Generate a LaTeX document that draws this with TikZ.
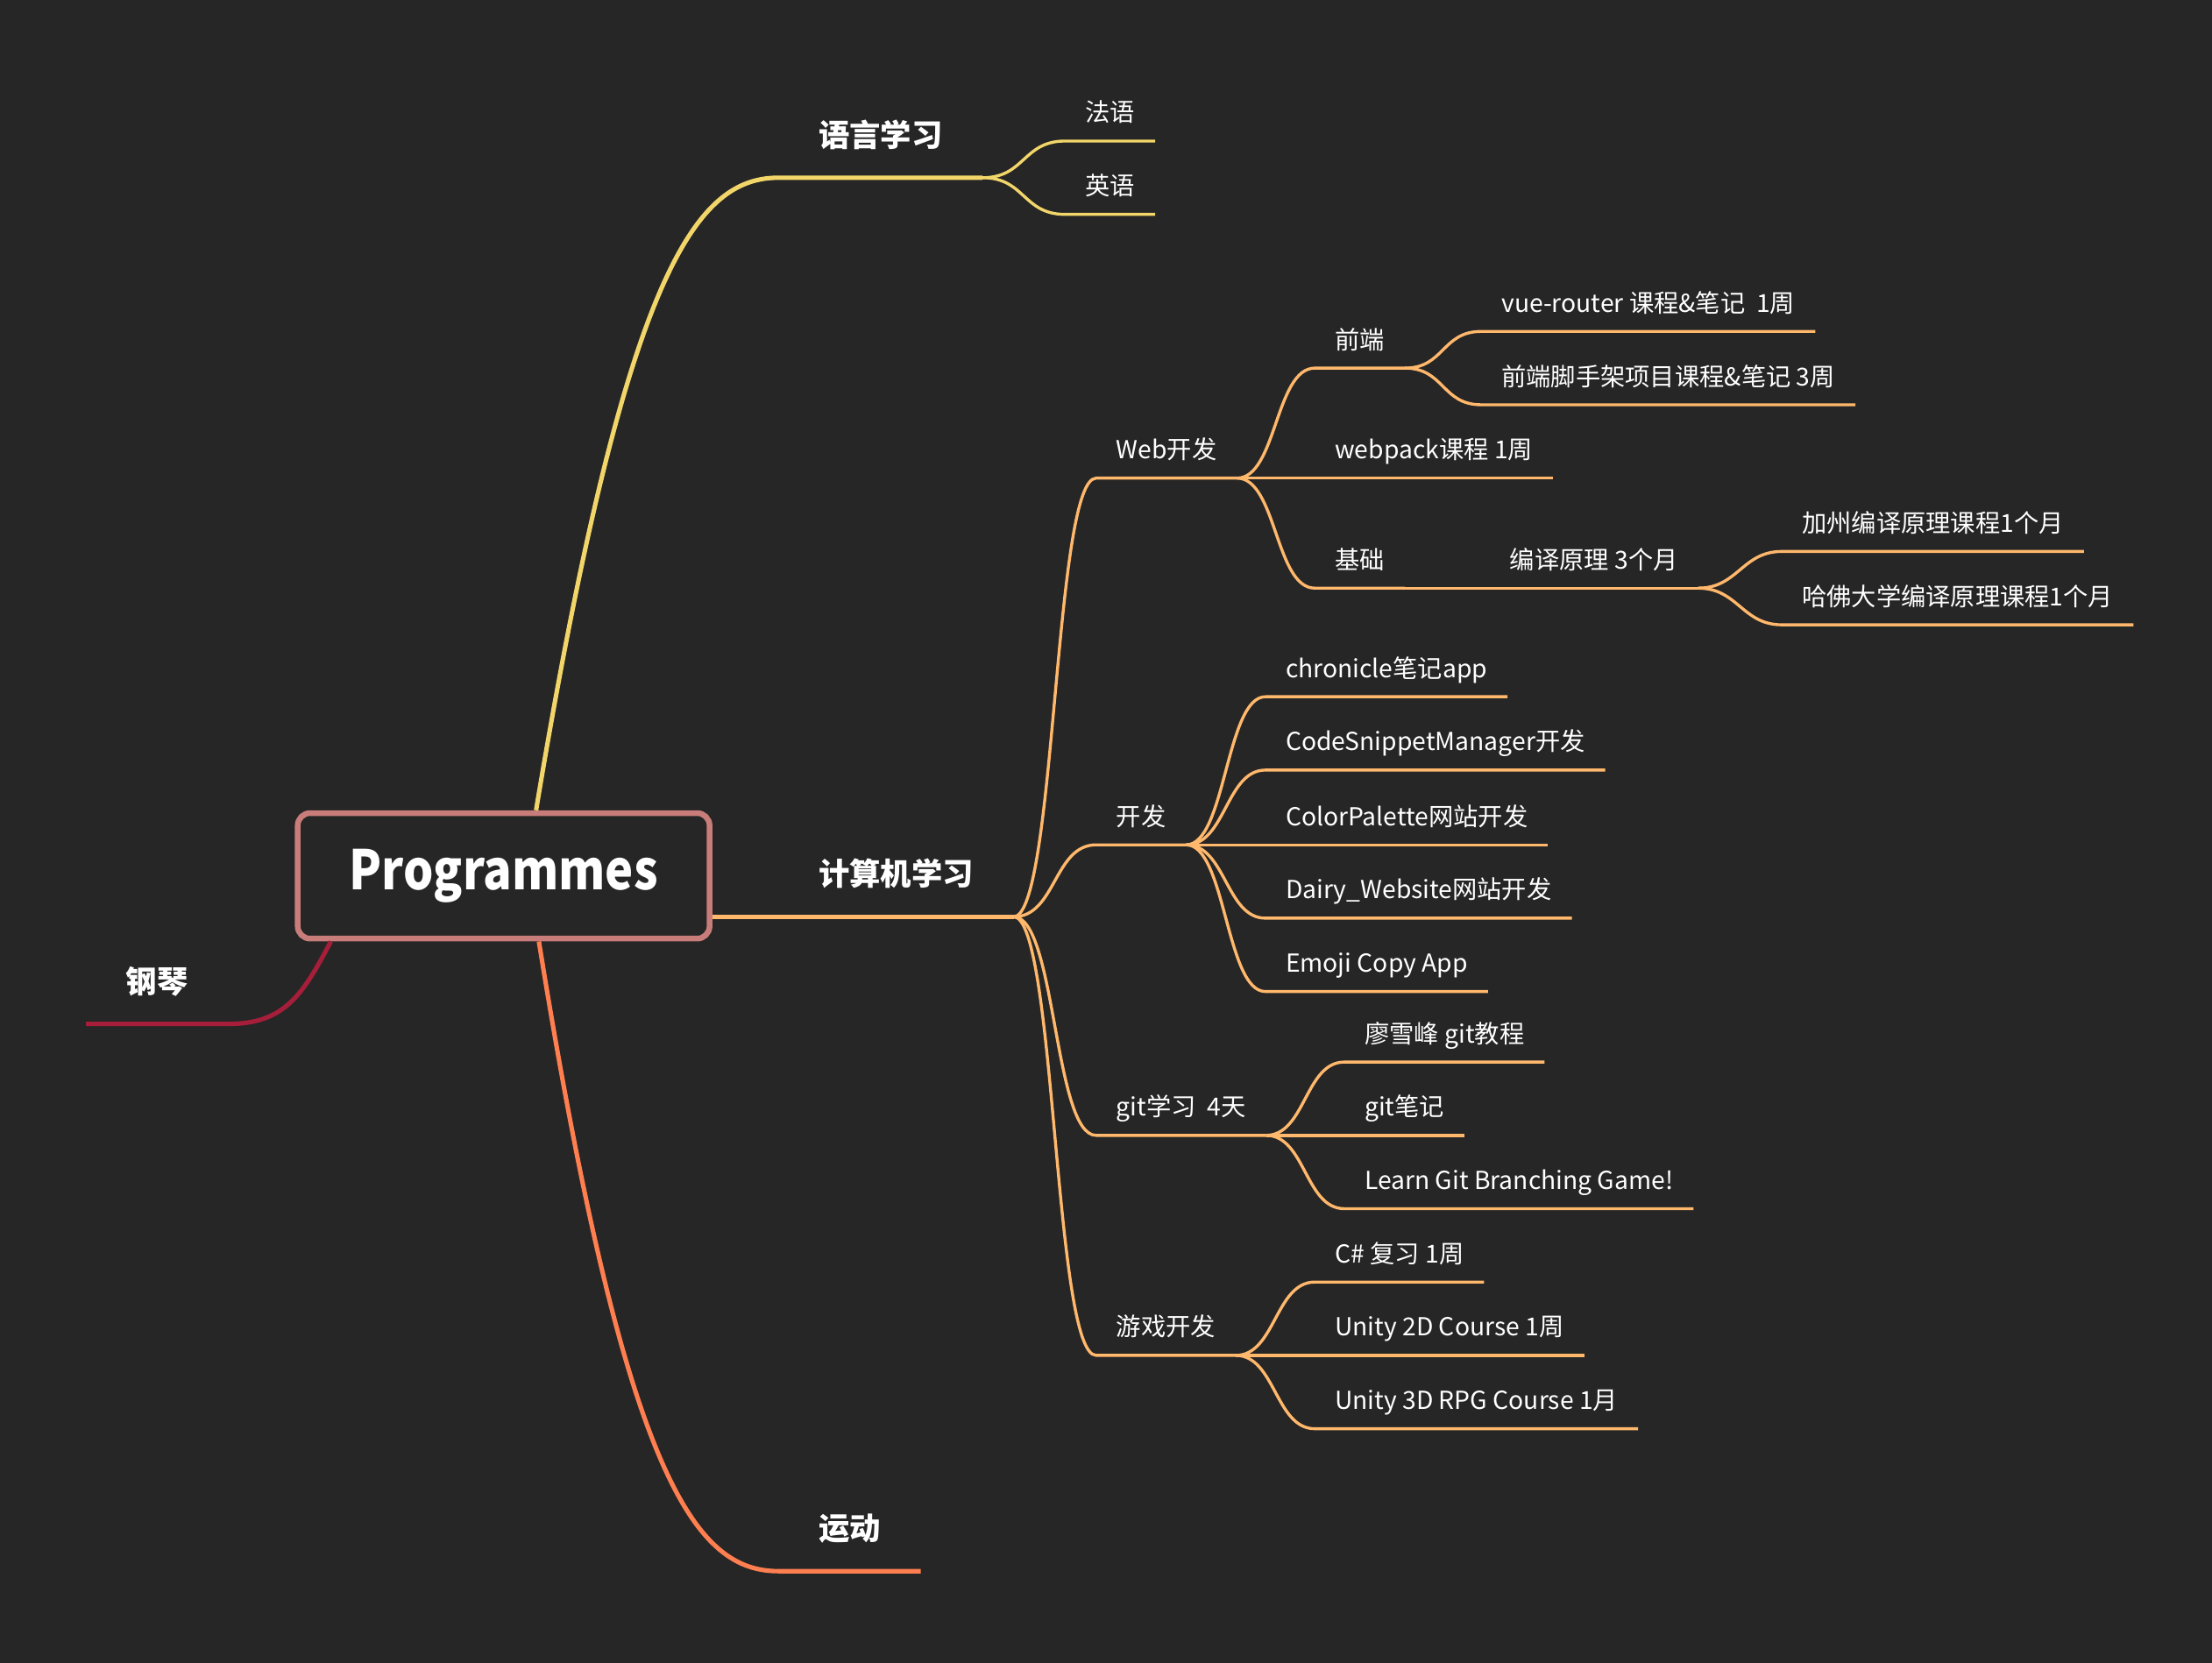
\documentclass[tikz,border=0pt]{standalone}
\usepackage{fontspec}
\setmainfont{Noto Sans CJK SC}
\newfontfamily\rootfont{Noto Sans CJK SC}[FakeStretch=0.87]
\usepackage{tikz}
\definecolor{colorbg}   {RGB}{38 ,38 ,38 }
\definecolor{colorroot} {RGB}{200,125,122}
\definecolor{colorlang} {RGB}{242,214,106}
\definecolor{colorcs}   {RGB}{255,184,108}
\definecolor{colorsport}{RGB}{255,127,80 }
\definecolor{colorpiano}{RGB}{166,30 ,58 }

\begin{document}
\begin{tikzpicture}[
    x=0.02cm, y=-0.02cm,
    root/.style={draw=colorroot,line width=2.3pt,rounded corners=5pt,fill=colorbg,text=white,
        minimum width=5.84cm,minimum height=1.78cm,font={\fontsize{22pt}{26pt}\rootfont\bfseries}},
    main/.style={anchor=south west,text=white,inner xsep=0.56cm,inner ysep=0.433cm,
        text height=0.3cm,text depth=0pt,font={\fontsize{12.5pt}{15pt}\selectfont\bfseries}},
    topic/.style={anchor=south west,text=white,inner xsep=0.28cm,inner ysep=0.266cm,
        text height=0.25cm,text depth=0pt,font={\fontsize{10pt}{12pt}\selectfont}},
    mainline/.style={line width=1.8pt},
    subline/.style={line width=1.2pt},
]

    \useasboundingbox (0,0) rectangle (1568,1179);
    \fill[colorbg] (0,0) rectangle (1568,1179);

    \node[root] (root) at (357,621) {Programmes};

    \node[main] (lang) at (552,126) {语言学习};
    \node[topic] (fr) at (755,100) {法语};
    \node[topic] (en) at (755,152) {英语};

    \node[main] (cs) at (552,650) {计算机学习};
    \node[topic] (web) at (777,339) {Web开发};
    \node[topic] (fe) at (932,261) {前端};
    \node[topic] (vr) at (1050,235) {vue-router 课程\&笔记\ \ 1周};
    \node[topic] (scaf) at (1050,287) {前端脚手架项目课程\&笔记 3周};
    \node[topic] (wp) at (932,339) {webpack课程 1周};
    \node[topic] (base) at (932,417) {基础};
    \node[topic] (comp) at (1056,417) {编译原理 3个月};
    \node[topic] (ucb) at (1263,391) {加州编译原理课程1个月};
    \node[topic] (harv) at (1263,443) {哈佛大学编译原理课程1个月};
    \node[topic] (dev) at (777,599) {开发};
    \node[topic] (chron) at (897,494) {chronicle笔记app};
    \node[topic] (csm) at (897,546) {CodeSnippetManager开发};
    \node[topic] (cp) at (897,599) {ColorPalette网站开发};
    \node[topic] (dairy) at (897,651) {Dairy\_Website网站开发};
    \node[topic] (emoji) at (897,703) {Emoji Copy App};
    \node[topic] (git) at (777,805) {git学习\ \ 4天};
    \node[topic] (lxf) at (953,753) {廖雪峰 git教程};
    \node[topic] (gitnote) at (953,805) {git笔记};
    \node[topic] (lgb) at (953,857) {Learn Git Branching Game!};
    \node[topic] (game) at (777,961) {游戏开发};
    \node[topic] (csharp) at (932,909) {C\# 复习 1周};
    \node[topic] (u2d) at (932,961) {Unity 2D Course 1周};
    \node[topic] (u3d) at (932,1013) {Unity 3D RPG Course 1月};

    \node[main] (sport) at (552,1114) {运动};
    \node[main] (piano) at (61,726) {钢琴};

    % language
    \draw[mainline,colorlang] ([xshift=0.46cm]root.north) .. controls +(64,-385) and +(-58,0) .. (lang.south west) -- (lang.south east);
    \draw[subline,colorlang] (lang.south east) .. controls +(30,0) and +(-30,0) .. (fr.south west) -- (fr.south east);
    \draw[subline,colorlang] (lang.south east) .. controls +(30,0) and +(-30,0) .. (en.south west) -- (en.south east);

    % computer
    \draw[mainline,colorcs] (root.east |- cs.south west) -- (cs.south west) -- (cs.south east);
    \draw[subline,colorcs] (cs.south east) .. controls +(30,0) and +(-30,0) .. (web.south west) -- (web.south east);
    \draw[subline,colorcs] (cs.south east) .. controls +(30,0) and +(-30,0) .. (dev.south west) -- (dev.south east);
    \draw[subline,colorcs] (cs.south east) .. controls +(30,0) and +(-30,0) .. (git.south west) -- (git.south east);
    \draw[subline,colorcs] (cs.south east) .. controls +(30,0) and +(-30,0) .. (game.south west) -- (game.south east);

    \draw[subline,colorcs] (web.south east) .. controls +(28,0) and +(-28,0) .. (fe.south west) -- (fe.south east);
    \draw[subline,colorcs] (web.south east) -- (wp.south west) -- (wp.south east);
    \draw[subline,colorcs] (web.south east) .. controls +(28,0) and +(-28,0) .. (base.south west) -- (base.south east);
    \draw[subline,colorcs] (fe.south east) .. controls +(28,0) and +(-28,0) .. (vr.south west) -- (vr.south east);
    \draw[subline,colorcs] (fe.south east) .. controls +(28,0) and +(-28,0) .. (scaf.south west) -- (scaf.south east);
    \draw[subline,colorcs] (base.south east) -- (comp.south west) -- (comp.south east);
    \draw[subline,colorcs] (comp.south east) .. controls +(28,0) and +(-28,0) .. (ucb.south west) -- (ucb.south east);
    \draw[subline,colorcs] (comp.south east) .. controls +(28,0) and +(-28,0) .. (harv.south west) -- (harv.south east);

    \draw[subline,colorcs] (dev.south east) .. controls +(28,0) and +(-28,0) .. (chron.south west) -- (chron.south east);
    \draw[subline,colorcs] (dev.south east) .. controls +(28,0) and +(-28,0) .. (csm.south west) -- (csm.south east);
    \draw[subline,colorcs] (dev.south east) -- (cp.south west) -- (cp.south east);
    \draw[subline,colorcs] (dev.south east) .. controls +(28,0) and +(-28,0) .. (dairy.south west) -- (dairy.south east);
    \draw[subline,colorcs] (dev.south east) .. controls +(28,0) and +(-28,0) .. (emoji.south west) -- (emoji.south east);

    \draw[subline,colorcs] (git.south east) .. controls +(28,0) and +(-28,0) .. (lxf.south west) -- (lxf.south east);
    \draw[subline,colorcs] (git.south east) -- (gitnote.south west) -- (gitnote.south east);
    \draw[subline,colorcs] (git.south east) .. controls +(28,0) and +(-28,0) .. (lgb.south west) -- (lgb.south east);

    \draw[subline,colorcs] (game.south east) .. controls +(28,0) and +(-28,0) .. (csharp.south west) -- (csharp.south east);
    \draw[subline,colorcs] (game.south east) -- (u2d.south west) -- (u2d.south east);
    \draw[subline,colorcs] (game.south east) .. controls +(28,0) and +(-28,0) .. (u3d.south west) -- (u3d.south east);

    % sport and piano
    \draw[mainline,colorsport] ([xshift=0.5cm]root.south) .. controls +(62,385) and +(-58,0) .. (sport.south west) -- (sport.south east);
    \draw[mainline,colorpiano] ([xshift=-2.45cm]root.south) .. controls +(-20,38) and +(40,0) .. (piano.south east) -- (piano.south west);

\end{tikzpicture}
\end{document}
